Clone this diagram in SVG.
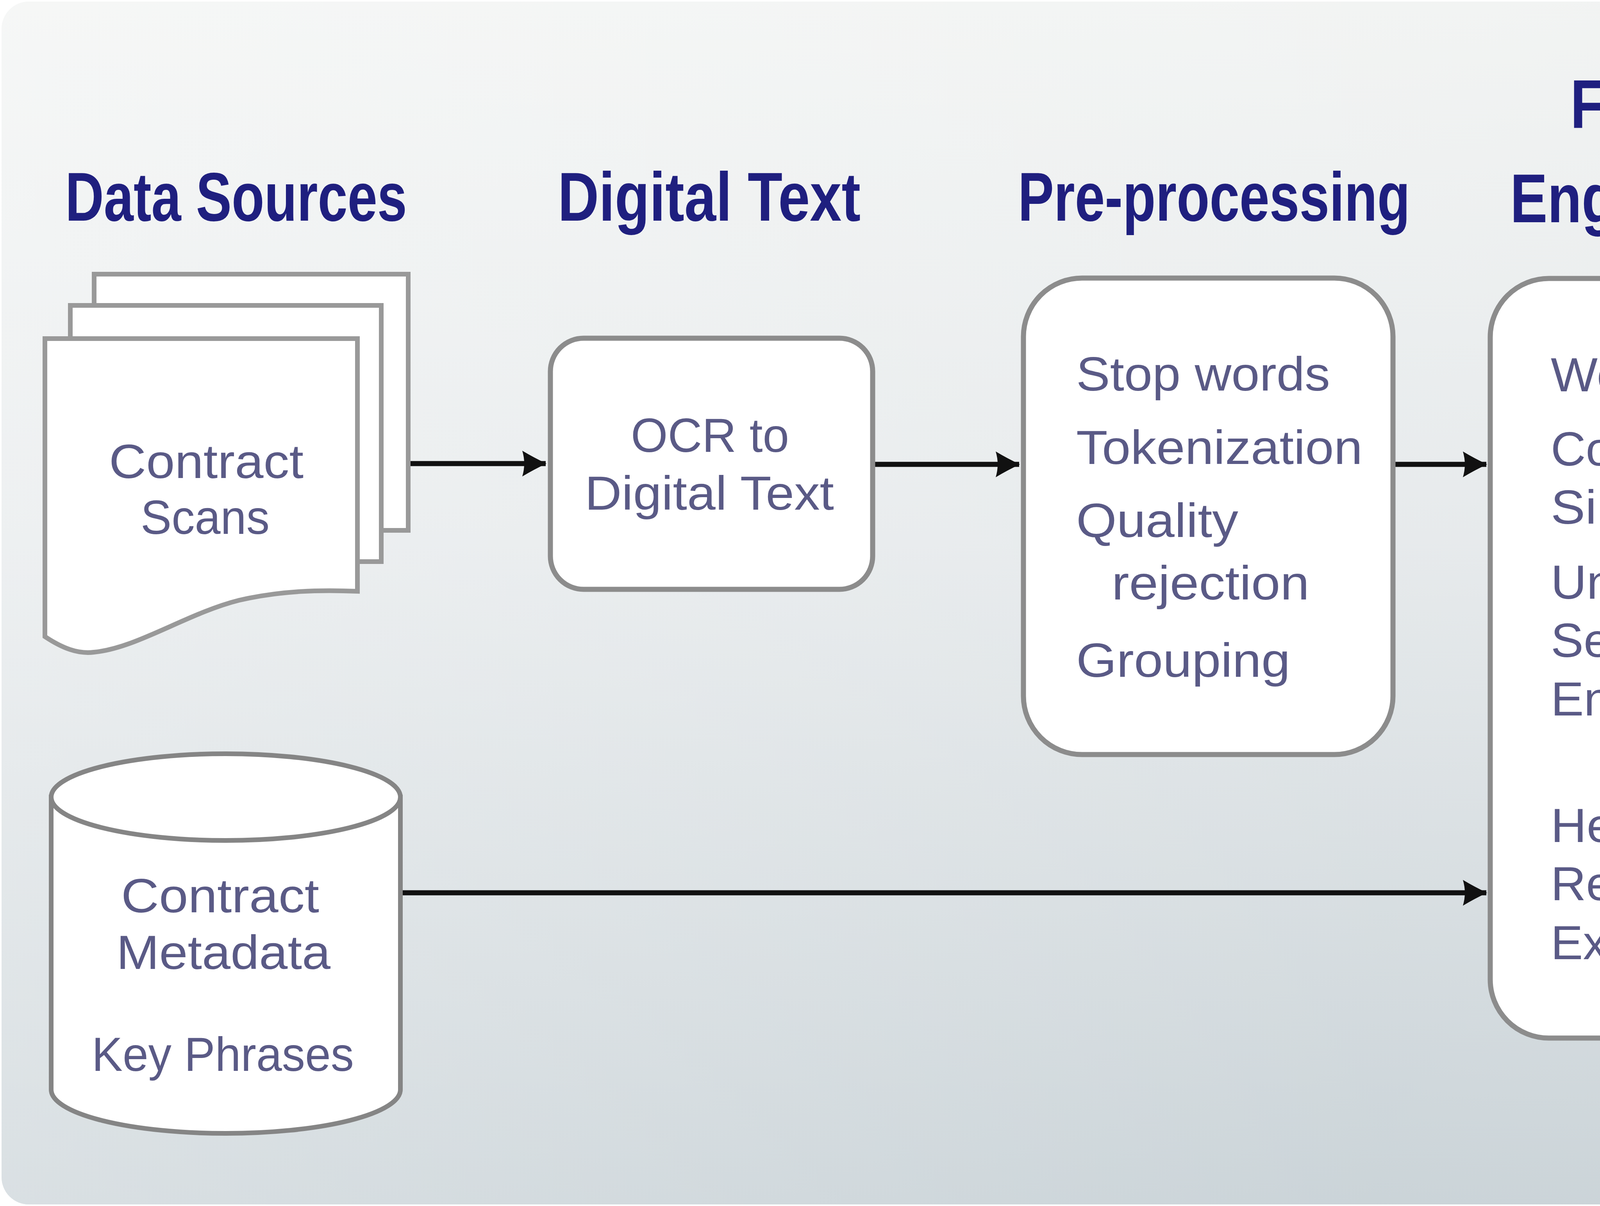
<svg xmlns="http://www.w3.org/2000/svg" width="7072" height="3088" viewBox="0 0 7072 3088">
<defs>
<linearGradient id="bgv" x1="0" y1="0" x2="0" y2="1">
<stop offset="0" stop-color="#f1f3f2"/>
<stop offset="0.45" stop-color="#e4e8ea"/>
<stop offset="1" stop-color="#c5cfd4"/>
</linearGradient>
<linearGradient id="bgh" x1="0" y1="0" x2="1" y2="0">
<stop offset="0" stop-color="#ffffff" stop-opacity="0.35"/>
<stop offset="0.5" stop-color="#ffffff" stop-opacity="0.1"/>
<stop offset="1" stop-color="#c8c8c8" stop-opacity="0.3"/>
</linearGradient>
<filter id="wmshadow" x="-5%" y="-20%" width="115%" height="150%">
<feOffset in="SourceAlpha" dx="20" dy="15" result="off"/>
<feFlood flood-color="#8a8d90"/>
<feComposite in2="off" operator="in" result="sh"/>
<feMerge><feMergeNode in="sh"/><feMergeNode in="SourceGraphic"/></feMerge>
</filter>
<marker id="ah" markerUnits="userSpaceOnUse" markerWidth="70" markerHeight="70" viewBox="0 0 70 70" refX="64" refY="35" orient="auto">
<path d="M4,2 Q34,20 66,35 Q34,50 4,68 Q14,35 4,2 Z" fill="#111"/>
</marker>
</defs>
<style>
.title{font-family:"Liberation Sans",Arial,sans-serif;font-weight:bold;font-size:176px;fill:#1f1f7f}
.out{font-family:"Liberation Sans",Arial,sans-serif;font-weight:bold;font-size:156px;fill:#1f1f7f}
.lbl{font-family:"Liberation Sans",Arial,sans-serif;font-size:122px;fill:#5a5a86}
.box{fill:#ffffff;stroke:#8c8c8c;stroke-width:13}
.doc{fill:#ffffff;stroke:#999999;stroke-width:12}
.conn{fill:none;stroke:#111111;stroke-width:13;marker-end:url(#ah)}
.wm{font-family:"Noto Sans CJK SC","Noto Sans CJK JP",sans-serif;font-size:215px;fill:#ffffff}
</style>
<rect x="0" y="0" width="7072" height="3088" fill="#ffffff"/>
<rect x="4" y="4" width="7064" height="3080" rx="70" fill="url(#bgv)"/>
<rect x="4" y="4" width="7064" height="3080" rx="70" fill="url(#bgh)"/>

<g id="titles">
<text class="title" x="167" y="565" textLength="875" lengthAdjust="spacingAndGlyphs">Data Sources</text>
<text class="title" x="1428" y="565" textLength="775" lengthAdjust="spacingAndGlyphs">Digital Text</text>
<text class="title" x="2606" y="565" textLength="1004" lengthAdjust="spacingAndGlyphs">Pre-processing</text>
<text class="title" x="4020" y="328" textLength="520" lengthAdjust="spacingAndGlyphs">Feature</text>
<text class="title" x="3866" y="569" textLength="827" lengthAdjust="spacingAndGlyphs">Engineering</text>
<text class="title" x="5068" y="328" textLength="926" lengthAdjust="spacingAndGlyphs">ML Algorithm</text>
</g>

<g id="connectors">
<line class="conn" x1="1045" y1="1187" x2="1397" y2="1187"/>
<line class="conn" x1="2234" y1="1189" x2="2609" y2="1189"/>
<line class="conn" x1="3566" y1="1189" x2="3805" y2="1189"/>
<line class="conn" x1="1025" y1="2286" x2="3805" y2="2286"/>
<line class="conn" x1="4771" y1="1658" x2="5028" y2="1658"/>
<line class="conn" x1="6105" y1="1660" x2="6282" y2="1660"/>
</g>

<g id="contract-scans">
<rect class="doc" x="241" y="702" width="804" height="656"/>
<rect class="doc" x="180" y="782" width="796" height="656"/>
<path class="doc" d="M115,867 L915,867 L915,1514 C820,1510 720,1512 612,1537 C480,1570 350,1660 240,1670 C200,1675 160,1660 115,1630 Z"/>
<text class="lbl" x="279" y="1224" textLength="498" lengthAdjust="spacingAndGlyphs">Contract</text>
<text class="lbl" x="360" y="1367" textLength="330" lengthAdjust="spacingAndGlyphs">Scans</text>
</g>

<g id="contract-metadata">
<path class="doc" style="stroke:#858585" d="M131,2041 L131,2790 A447,112 0 0 0 1025,2790 L1025,2041 Z"/>
<ellipse class="doc" style="stroke:#858585" cx="578" cy="2041" rx="447" ry="111"/>
<text class="lbl" x="310" y="2336" textLength="507" lengthAdjust="spacingAndGlyphs">Contract</text>
<text class="lbl" x="298" y="2481" textLength="548" lengthAdjust="spacingAndGlyphs">Metadata</text>
<text class="lbl" x="235" y="2742" textLength="671" lengthAdjust="spacingAndGlyphs">Key Phrases</text>
</g>

<g id="ocr">
<rect class="box" x="1409" y="866" width="825" height="643" rx="85"/>
<text class="lbl" x="1615" y="1157" textLength="405" lengthAdjust="spacingAndGlyphs">OCR to</text>
<text class="lbl" x="1497" y="1305" textLength="638" lengthAdjust="spacingAndGlyphs">Digital Text</text>
</g>

<g id="preprocessing">
<rect class="box" x="2620" y="712" width="946" height="1220" rx="150"/>
<text class="lbl" x="2755" y="1000" textLength="650" lengthAdjust="spacingAndGlyphs">Stop words</text>
<text class="lbl" x="2755" y="1188" textLength="733" lengthAdjust="spacingAndGlyphs">Tokenization</text>
<text class="lbl" x="2755" y="1375" textLength="415" lengthAdjust="spacingAndGlyphs">Quality</text>
<text class="lbl" x="2846" y="1535" textLength="506" lengthAdjust="spacingAndGlyphs">rejection</text>
<text class="lbl" x="2755" y="1733" textLength="548" lengthAdjust="spacingAndGlyphs">Grouping</text>
</g>

<g id="feature-engineering">
<rect class="box" x="3815" y="713" width="956" height="1945" rx="150"/>
<text class="lbl" x="3970" y="1002" textLength="584" lengthAdjust="spacingAndGlyphs">Word2Vec</text>
<text class="lbl" x="3970" y="1192" textLength="386" lengthAdjust="spacingAndGlyphs">Cosine</text>
<text class="lbl" x="3970" y="1341" textLength="536" lengthAdjust="spacingAndGlyphs">Similarity</text>
<text class="lbl" x="3970" y="1533" textLength="530" lengthAdjust="spacingAndGlyphs">Universal</text>
<text class="lbl" x="3970" y="1682" textLength="532" lengthAdjust="spacingAndGlyphs">Sentence</text>
<text class="lbl" x="3970" y="1832" textLength="472" lengthAdjust="spacingAndGlyphs">Encoder</text>
<text class="lbl" x="3970" y="2156" textLength="677" lengthAdjust="spacingAndGlyphs">Heuristics &amp;</text>
<text class="lbl" x="3970" y="2305" textLength="438" lengthAdjust="spacingAndGlyphs">Regular</text>
<text class="lbl" x="3970" y="2456" textLength="673" lengthAdjust="spacingAndGlyphs">Expressions</text>
</g>

<g id="search">
<polygon points="5253,1100 5890,1100 5558,1255" fill="#a0a0a0"/>
<rect class="box" x="5080" y="872" width="963" height="230" rx="40"/>
<text class="lbl" x="5565" y="1018" text-anchor="middle" textLength="380" lengthAdjust="spacingAndGlyphs">Search</text>
</g>

<g id="ml-model">
<rect class="box" x="5038" y="1297" width="1067" height="793" rx="120"/>
<text class="lbl" x="5565" y="1500" text-anchor="middle" textLength="855" lengthAdjust="spacingAndGlyphs">Stacked Model</text>
<text class="lbl" x="5565" y="1714" text-anchor="middle" textLength="490" lengthAdjust="spacingAndGlyphs">XGBoost</text>
<text class="lbl" x="5565" y="1926" text-anchor="middle" textLength="735" lengthAdjust="spacingAndGlyphs">Rules Engine</text>
</g>

<g id="priority-review-list">
<text class="out" x="6572" y="1510" text-anchor="middle" textLength="436" lengthAdjust="spacingAndGlyphs">Priority</text>
<text class="out" x="6572" y="1712" text-anchor="middle" textLength="423" lengthAdjust="spacingAndGlyphs">Review</text>
<text class="out" x="6572" y="1912" text-anchor="middle" textLength="201" lengthAdjust="spacingAndGlyphs">List</text>
</g>

<g id="watermark">
<text class="wm" x="5367" y="2871" filter="url(#wmshadow)" textLength="1511" lengthAdjust="spacingAndGlyphs">知乎 @大牛学院</text>
</g>
</svg>
